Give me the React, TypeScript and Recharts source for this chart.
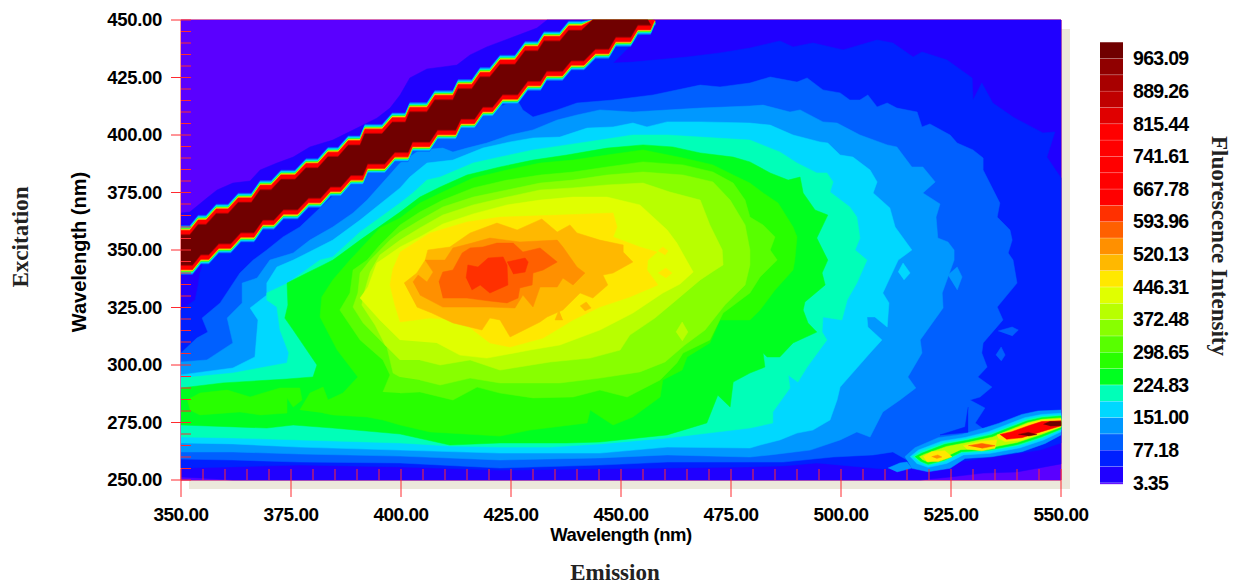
import { ScatterChart, Scatter, XAxis, YAxis, ReferenceLine, BarChart, Bar } from 'recharts';

type Pair = [number, number];

// Contours, [emission, excitation] in nm. Painted low to high.
const level1: Pair[] = [[350, 250], [550, 250], [550, 450], [350, 450]];
const level2: Pair[] = [[350, 366.1], [352, 366.5], [355.9, 372.6], [358.2, 376.1], [361.8, 379.1], [365.7, 380], [368, 384.8], [371.8, 387.8], [375.5, 390.4], [379.3, 394.8], [384.5, 397.8], [390, 403], [394.5, 407.3], [397.5, 411.7], [399.8, 417.4], [402, 424.8], [405.9, 428.7], [409.5, 429.6], [412.7, 430.4], [415.7, 434.8], [419.5, 438.3], [425.5, 442.6], [430.9, 446.5], [433.2, 450], [550, 450], [550, 257], [540, 253.5], [532.3, 253], [524.8, 251.3], [518, 250], [361.8, 250], [354.3, 250.9], [350, 251.3]];
const level3: Pair[] = [[355.5, 347.8], [377, 371.7], [399.8, 404.3], [443, 447.8], [457.7, 449.1], [452.7, 440], [448.2, 431.3], [452.7, 431.7], [465, 433.9], [472.5, 435.7], [479.3, 437.8], [486.1, 440.9], [489.1, 438.3], [493.6, 440], [500.5, 437], [508.2, 441.3], [511.8, 440], [516.4, 433.9], [518.4, 436.1], [524.1, 432.6], [529.8, 424.8], [530, 415.2], [532, 422.6], [534.5, 413.9], [539.1, 407.8], [545.9, 400.9], [548.6, 401.3], [546.8, 390.4], [550, 381.3], [550, 266.1], [545.2, 263], [524.8, 257.4], [509.5, 254.8], [494.5, 257.4], [486.8, 256.1], [479.3, 255.7], [422.5, 254.3], [399.8, 255.7], [377, 256.5], [361.8, 255.7], [350, 255.2], [350, 323.9], [353.2, 328.3], [353.9, 334.8], [354.3, 340]];
const level4: Pair[] = [[350, 305.2], [353.6, 311.7], [356.1, 314.3], [354.8, 320.4], [358.9, 327], [363.4, 340], [366.4, 345.6], [369.5, 350], [373.2, 355.7], [377, 360], [390.7, 384.8], [411.1, 404.3], [426.4, 415.2], [427.7, 410.9], [430, 407.8], [435.5, 410.9], [440, 413.9], [448.2, 415.2], [457.3, 417.4], [468, 421.7], [472.5, 420.9], [479.3, 422.6], [483.9, 425.2], [490, 423], [492.3, 424.8], [495.9, 419.6], [499.8, 418.3], [502, 415.2], [504.3, 415.2], [506.1, 417.4], [508.2, 412.2], [510.5, 413.9], [512.7, 411.7], [517.3, 410], [518.4, 403.5], [520.2, 404.8], [524.8, 400], [526.4, 396.5], [530, 393.5], [532.3, 390], [532.3, 384.8], [536.1, 370.4], [535.5, 364.3], [538.4, 358.7], [538.9, 354.3], [538, 348.7], [539.1, 345.6], [540, 335.6], [535.5, 325.2], [536.8, 319.6], [532.3, 309.6], [532, 305.2], [533.2, 299.1], [531.1, 294.8], [534.3, 290.4], [531.6, 286.1], [529.3, 284.8], [532.7, 281.3], [530.5, 274.8], [532.7, 271.7], [520.2, 263], [515, 258.7], [511.8, 262.2], [507.3, 260.9], [498.2, 260], [486.8, 257.8], [479.3, 257.8], [460.5, 257.8], [445.2, 256.5], [422.5, 255.2], [399.8, 257.4], [377, 257.8], [361.8, 258.7], [350, 259.1]];
const level5: Pair[] = [[350, 301.3], [355.9, 302.2], [361.8, 309.6], [360.5, 320.4], [363.9, 327], [363.9, 335.6], [367.3, 337.8], [370.2, 345.6], [375.5, 348.7], [379.3, 354.3], [384.5, 360], [389.1, 366.1], [392.3, 371.7], [399.8, 387.8], [404.3, 393.5], [409.5, 394.3], [411.8, 392.6], [415, 394.3], [419.5, 396.5], [424.8, 400], [430, 402.2], [435.5, 406.5], [440, 408.7], [445.2, 410.9], [452.7, 410], [468, 411.7], [479.3, 412.6], [482.3, 413], [488.4, 410], [490.7, 410.9], [495.9, 405.7], [499.1, 405.2], [504.3, 400], [510.5, 395.7], [512.7, 394.8], [516.1, 386.1], [518.6, 386.1], [521.4, 379.6], [518.6, 374.8], [522.5, 370], [521.6, 364.3], [522, 355.2], [524.3, 353.5], [525.7, 350], [525.7, 345.6], [523, 331.3], [523.2, 324.8], [518, 310.9], [518.4, 305.2], [515.2, 294.8], [517, 290], [513.4, 284.8], [509.5, 279.6], [506.6, 268.7], [503.6, 270.9], [499.8, 267.4], [493, 263], [483.9, 260.9], [479.3, 260], [460.5, 260.9], [445.2, 259.6], [422.5, 258.7], [399.8, 260.4], [377, 261.3], [361.8, 262.2], [350, 262.2]];
const level6: Pair[] = [[350, 295.7], [361.8, 298.7], [366.8, 303.5], [367.5, 319.6], [365.7, 324.8], [369.5, 330.4], [369.5, 335.6], [371.8, 342.6], [375.5, 345.6], [384.5, 354.3], [390.7, 363], [399.8, 377], [402, 381.7], [405.9, 387.8], [411.8, 389.1], [418.6, 394.3], [424.8, 397], [430, 398.7], [436.1, 399.1], [442.3, 403], [448.2, 403.5], [452.7, 405.2], [455.9, 403.5], [460.5, 405.7], [468, 405.7], [479.3, 405.2], [483.9, 404.3], [489.1, 400], [495.2, 397], [497, 396.5], [499.8, 391.3], [502.7, 390.4], [506.6, 384.8], [508.2, 379.6], [507.3, 374.8], [511.1, 368.3], [512.3, 360], [516.1, 350], [513, 345.6], [509.5, 331.3], [510.9, 327], [510.5, 316.5], [507.7, 320.9], [505.9, 320.9], [506.1, 316.5], [509.3, 310.9], [506.6, 305.2], [499.8, 290.4], [499.1, 284.8], [497.5, 276.1], [493.6, 271.7], [490, 270.4], [486.1, 267.4], [481.6, 265.2], [479.3, 263.9], [460.5, 264.3], [445.2, 261.7], [422.5, 261.7], [399.8, 263], [377, 264.3], [361.8, 265.7], [350, 266.1]];
const level7: Pair[] = [[350, 294.3], [361.8, 296.5], [374.1, 300.9], [374.5, 305.2], [372.5, 315.2], [371.8, 325.2], [369.5, 328.3], [369.5, 331.3], [374.3, 335.6], [381.6, 345.6], [384.5, 347], [390.7, 357.8], [399.8, 370.4], [402.7, 374.8], [405.9, 380.4], [408.9, 381.7], [416.4, 387.8], [422.5, 390.4], [430, 393.5], [437.7, 395.7], [445.2, 397.8], [452.7, 400], [460.5, 400], [468, 399.1], [479.3, 397.8], [486.1, 392.6], [490, 387.8], [494.5, 383.5], [496.8, 383.5], [498.2, 379.6], [497.5, 375.2], [502, 368.7], [503.6, 364.3], [504.3, 355.2], [503.2, 350], [505.9, 345.6], [503.6, 335.6], [501.4, 328.3], [500.2, 319.6], [495.9, 320.9], [495.7, 314.3], [496.8, 310.9], [492.3, 299.1], [490.2, 292.6], [488, 295.7], [488.4, 290], [484.5, 279.6], [484.5, 274.8], [479.3, 272.6], [468, 270], [460.5, 268.3], [445.2, 265.7], [433.9, 264.3], [422.5, 264.3], [411.1, 264.8], [399.8, 266.1], [377, 267.4], [361.8, 268.3], [350, 268.7]];
const level8: Pair[] = [[350, 290], [359.5, 292.2], [374.1, 293.9], [380, 294.8], [380.9, 300], [375.5, 315.2], [373.6, 320.4], [374.3, 326.1], [374.1, 335.6], [378.6, 340], [382.3, 343.5], [384.5, 345.6], [390.7, 354.3], [399.8, 366.5], [404.3, 373], [408.9, 377.4], [415, 382.6], [422.5, 386.1], [430, 389.1], [437.7, 391.3], [446.8, 394.3], [455, 395.7], [461.8, 394.8], [468, 392.2], [475.5, 390.4], [479.3, 388.3], [483.9, 383.5], [488, 380.4], [490.7, 381.7], [491.4, 374.8], [494.1, 367.4], [497, 365.2], [494.5, 355.2], [497, 345.6], [495.7, 340], [496.4, 334.8], [491.8, 327.4], [491.4, 323.9], [492.5, 318.3], [494.5, 314.3], [489.1, 309.6], [486.1, 303.5], [483.2, 303.5], [482.3, 305.2], [482.7, 299.1], [479.3, 296.5], [475.5, 292.6], [474.8, 281.7], [472, 286.9], [469.5, 274.8], [460.5, 269.6], [445.2, 266.5], [437.7, 266.1], [422.5, 266.1], [411.1, 265.2], [399.8, 270], [384.5, 272.6], [375.5, 273.9], [369.5, 272.6], [350, 273.9]];
const level9Left: Pair[] = [[351.4, 284.8], [354.3, 287.8], [360.5, 289.1], [365.7, 286.1], [372.5, 290], [377, 290], [377.5, 284.8], [375.5, 281.7], [374.1, 285.7], [374.1, 279.1], [368, 278.3], [363.4, 279.6], [354.3, 278.3], [352, 280.4]];
const level9: Pair[] = [[377, 280.4], [379.3, 287.8], [382.3, 290.4], [383.4, 284.8], [386.8, 287.8], [390.2, 294.8], [385.5, 306.5], [381.6, 320.9], [382, 329.6], [384.5, 337], [388.4, 345.6], [395.2, 359.6], [399.8, 363.9], [404.3, 370.4], [409.5, 375.2], [416.4, 381.3], [424.1, 384.8], [431.6, 387.8], [439.1, 389.1], [446.8, 391.3], [455, 393.5], [464.1, 390], [470.9, 387], [475.5, 382.6], [479.3, 379.1], [482.3, 374.8], [485.7, 370.4], [489.1, 360], [490, 355.7], [489.5, 345.6], [489.1, 341.3], [485, 332.6], [481.6, 323.9], [479.3, 319.6], [472.5, 319.6], [470.2, 309.6], [465, 303.5], [463.9, 297.8], [459.5, 293.5], [458.9, 286.1], [452.7, 277.4], [448.2, 273.9], [443, 280.4], [442.3, 274.8], [429.3, 271.7], [422.5, 269.1], [406.6, 270.9], [399.8, 273.9], [395.9, 276.1], [392.3, 277.4], [384.5, 278.3], [382.3, 279.1]];
const level10: Pair[] = [[395.9, 288.3], [397.5, 295.7], [395.9, 302.2], [390.7, 310.9], [386.1, 323.9], [388.4, 331.3], [389.1, 341.3], [392.3, 345.6], [395.2, 352.2], [399.8, 360.9], [404.3, 366.5], [409.5, 371.7], [416.4, 377], [424.1, 380.4], [431.6, 382.6], [439.1, 383.9], [446.8, 386.1], [455, 388.3], [464.1, 387], [470.9, 383.9], [475.5, 379.1], [478.2, 371.7], [479.3, 364.3], [482.3, 360.9], [485, 355.7], [483.9, 350], [485.5, 345.6], [481.6, 338.3], [479.3, 331.3], [473.2, 322.6], [470.2, 310.9], [464.1, 305.2], [462.7, 300.9], [458.9, 293.5], [451.4, 286.1], [445.2, 289.1], [439.1, 286.1], [430, 285.7], [422.5, 287.8], [417.3, 290.4], [411.8, 284.8], [404.3, 288.3], [399.8, 287.8]];
const level11: Pair[] = [[399.8, 294.8], [398.2, 296.5], [396.8, 307.8], [391.4, 318.3], [389.1, 325.2], [390.2, 331.3], [390.7, 340], [393, 345.6], [397.5, 354.3], [399.8, 357.8], [404.3, 363], [409.5, 368.7], [416.4, 373], [424.1, 376.1], [431.6, 379.1], [439.1, 380.4], [446.8, 382.6], [455, 383.9], [464.1, 382.6], [470.9, 379.6], [474.8, 371.7], [478.2, 360.9], [479.3, 350], [479.3, 343.5], [478.2, 334.8], [473.6, 326.1], [469.1, 315.2], [464.5, 308.7], [460, 301.3], [454.3, 297], [445.2, 294.3], [436.1, 292.2], [422.5, 292.2], [415.7, 294.3], [408.9, 291.3], [404.3, 293.5]];
const level12: Pair[] = [[399.8, 302.2], [396.4, 308.7], [394.1, 317.4], [391.1, 326.1], [391.8, 332.6], [393, 340.4], [395.2, 347.8], [399.8, 354.3], [404.3, 359.6], [409.5, 365.2], [416.4, 369.6], [424.1, 373], [431.6, 376.1], [439.1, 377], [446.8, 378.3], [455, 379.1], [461.1, 375.2], [468, 371.7], [470.2, 360.9], [473, 350], [473.2, 343.5], [471.4, 341.3], [468, 337], [461.8, 327], [457.7, 320.4], [452, 313], [449.8, 306.5], [443, 303], [433.9, 301.3], [422.5, 297.8], [415.7, 302.2], [408.9, 300], [404.3, 302.2]];
const level13: Pair[] = [[399.8, 310.9], [395.2, 319.6], [390.7, 329.1], [392.5, 333.9], [394.5, 344.3], [399.8, 351.3], [404.3, 355.7], [409.5, 361.3], [416.4, 365.7], [424.1, 369.6], [431.6, 371.7], [439.1, 373], [446.8, 373], [454.3, 369.6], [460.5, 358.7], [462.7, 353], [466.4, 340.4], [463.4, 335.2], [459.5, 331.3], [452.7, 322.6], [445.2, 315.2], [436.1, 308.7], [429.3, 306.5], [419.5, 303], [413.4, 304.3], [408.2, 309.6]];
const level14: Pair[] = [[399.8, 349.1], [406.6, 357.4], [415, 362.2], [422.5, 364.3], [436.1, 365.2], [448.2, 366.1], [449.1, 360], [448.2, 355.7], [454.3, 351.3], [458.2, 349.1], [456.1, 345.6], [455.9, 341.3], [458.4, 334.8], [452, 329.6], [445.2, 325.2], [439.1, 319.6], [432.3, 311.7], [424.8, 307.8], [420.2, 309.6], [413.4, 319.6], [406.6, 320.4], [399.8, 318.7], [398.6, 326.1], [397.5, 334.8], [398.2, 342.2]];
const level15: Pair[] = [[400.7, 335.6], [403.6, 340], [405.5, 345.6], [406.1, 350], [411.1, 351.3], [415.7, 357.4], [421.8, 361.7], [426.4, 358.7], [432, 363.5], [435.5, 357.8], [438.4, 360.9], [440, 357.4], [445.2, 354.3], [450.5, 352.2], [450.5, 349.1], [452.7, 344.8], [448.2, 340], [445.9, 339.1], [447, 334.8], [443.6, 329.1], [440.7, 331.3], [436.8, 323.9], [433.2, 320.9], [431.6, 318.7], [424.8, 312.2], [422.5, 319.6], [420.2, 320.4], [418.4, 315.2], [411.8, 318.3], [407, 322.6], [403.6, 325.2]];
const level16: Pair[] = [[402.7, 336.1], [403.9, 339.1], [405.9, 336.1], [407.3, 340.4], [405.5, 345.6], [410, 345.6], [411.8, 350.9], [416.1, 353], [420.2, 355.2], [427, 353.5], [435.5, 354.3], [436.8, 351.3], [440, 342.6], [441.8, 340], [439.1, 334.8], [436.8, 337.8], [435.5, 333.9], [431.6, 333.9], [430, 325.2], [427.7, 330.4], [425.9, 324.8], [420.2, 325.2], [409.5, 325.2], [404.3, 330.4]];
const level17: Pair[] = [[408.6, 336.1], [409.5, 340.4], [411.8, 341.3], [413.9, 348.7], [415.7, 350.9], [418.6, 351.3], [421.8, 353], [425.5, 353], [427.7, 349.1], [431.6, 350.9], [435.5, 344.8], [432.3, 341.3], [430, 340], [429.8, 334.8], [427, 333.5], [426.6, 329.1], [424.1, 327], [420.2, 327.8], [415, 329.1], [409.5, 329.1]];
const level18a: Pair[] = [[414.8, 337.8], [415.2, 343.5], [417.5, 342.6], [419.8, 346.5], [423.2, 347], [424.1, 343.5], [424.3, 334.8], [420.2, 331.3], [418, 334.8], [416.1, 332.6]];
const level18b: Pair[] = [[424.1, 344.8], [428.2, 346.5], [428.9, 344.8], [428.2, 340.4], [425.5, 339.6]];

// hot band in the lower right corner
const bandOuter: Pair[] = [[514.5, 260.1], [516.8, 264], [522.1, 268.4], [527.4, 269.8], [532.7, 272.7], [535.8, 274.6], [541.1, 278.5], [544.8, 280], [550, 280.4], [550, 269.6], [546.4, 265.9], [541.1, 262.3], [534.2, 260.1], [528.2, 259.4], [524.8, 255.1], [519.8, 253.6], [516.1, 255.1]];
const bandLobe: Pair[] = [[510.7, 255.2], [513.4, 257.4], [515, 257.8], [516.1, 255.2], [512.7, 253.5]];
const bandCyan: Pair[] = [[515.7, 260.1], [517.6, 263], [522.9, 266.9], [528.2, 268.5], [533.5, 271], [536.5, 273.2], [541.8, 277.1], [545.6, 278.5], [550, 279], [550, 271], [546, 267.4], [540.7, 264], [533.9, 261.6], [527.8, 260.9], [524, 257.2], [519.8, 255.5], [517.2, 257.2]];
const bandTeal: Pair[] = [[516.2, 260.1], [518, 262.4], [523.5, 266.2], [528.8, 267.9], [534, 270.3], [537, 272.4], [542.2, 276.4], [545.9, 277.8], [550, 278.2], [550, 271.9], [545.6, 268.2], [540.3, 264.9], [533.5, 262.5], [527.4, 261.8], [523.6, 258.2], [519.8, 256.4], [517.6, 258.2]];
const bandGreen: Pair[] = [[516.8, 260.1], [518.3, 261.6], [523.6, 265.5], [529, 267.4], [534.2, 269.6], [536.9, 271.7], [542.2, 275.6], [545.6, 277.1], [550, 277.8], [550, 272.2], [545.6, 268.8], [540.3, 265.5], [533.5, 263], [527.4, 262.3], [523.6, 258.7], [519.8, 256.8], [518, 258.3]];
const bandLime: Pair[] = [[517.8, 260.1], [519, 261.2], [524, 264.6], [529.3, 266.5], [534.5, 268.7], [537.2, 270.9], [542.4, 274.9], [545.7, 276.4], [550, 277], [550, 273], [545.4, 269.7], [540, 266.3], [533.2, 263.8], [527.2, 263.2], [523.2, 259.6], [519.8, 257.8], [518.4, 259]];
const blob1: Pair[] = [[518.7, 260.1], [520.6, 262.3], [523.6, 262.7], [525.2, 260.1], [522.1, 258], [519.5, 258]];
const blob1Core: Pair[] = [[520.6, 260.1], [522, 260.9], [522.9, 260], [521.7, 259.3]];
const blob2: Pair[] = [[527.8, 264.9], [532, 266.9], [535.4, 267.4], [535, 263.8], [532, 262.7], [528.6, 263.5]];
const blob2Core: Pair[] = [[528.9, 264.9], [532, 265.9], [535, 264.9], [532, 263.8]];
const blob3: Pair[] = [[535.4, 269.6], [538.4, 271.3], [542.6, 274.6], [545.6, 276.1], [550, 276.5], [550, 273.2], [545.6, 270.3], [541.1, 267.4], [537.3, 266.7], [535.8, 268.1]];
const blob3Red: Pair[] = [[536.1, 269.8], [538.8, 271], [542.6, 273.6], [545.6, 275.4], [550, 275.8], [550, 273.6], [545.6, 271], [541.1, 268.4], [537.6, 267.7]];
const blob3DarkA: Pair[] = [[540.3, 269.8], [542.6, 270.7], [544.5, 269.8], [542.6, 269.1]];
const blob3DarkB: Pair[] = [[546, 274.2], [547.5, 275.4], [550, 275.4], [550, 273.6], [547.5, 273.5]];

// small isolated islands
const speckA: Pair[] = [[513, 340.4], [514.1, 344.3], [515.7, 340], [514.3, 337]];
const speckB: Pair[] = [[524.3, 339.1], [526.4, 342.6], [527.5, 338.3], [526.4, 332.6]];
const speckC: Pair[] = [[535.2, 304.3], [536.4, 307.8], [537.3, 304.3], [536.4, 301.7]];
const speckD: Pair[] = [[535.7, 314.8], [538.9, 316.5], [540.3, 315.2], [538.9, 312.6]];
const speckE: Pair[] = [[462.5, 314.3], [463.9, 318.7], [465.2, 314.3], [463.9, 310.4]];
const speckF: Pair[] = [[440.7, 325.7], [442.1, 327.4], [443.2, 324.8], [441.8, 323.5]];
const speckG: Pair[] = [[435.9, 323.9], [435, 319.6], [436.8, 319.6]];
const speckH: Pair[] = [[458.4, 349.6], [459.5, 351.3], [460.7, 349.6], [460, 347.8]];
const speckI: Pair[] = [[458.4, 340], [460.2, 342.2], [461.6, 340], [460.2, 337.8]];
const seam: Pair[] = [[528.9, 281.7], [528.2, 273], [522.5, 269.6], [528.9, 270.8]];

// scatter ridge (em = ex): each step of the staircase
const ridgeEmStart = [350, 353.9, 358, 363, 368, 372.7, 378.4, 383.4, 388, 391.8, 398, 402, 407.7, 413, 418, 422.5, 428.2, 432.5, 438.1, 443.6, 448.2, 453.2, 457];
const ridgeEmEnd = [352, 355.7, 360.7, 366, 370.5, 375.9, 381.1, 385.7, 390.7, 395.7, 401, 405.9, 411.8, 416.1, 420.2, 425.9, 431.1, 436.1, 441, 446.6, 451.6, 456.1, 457.2];
const ridgeEx = [350, 354.5, 359.3, 364.1, 369.6, 374.1, 379.1, 384, 389, 394, 399, 403.5, 408.7, 413.5, 418.7, 424.1, 430, 434.3, 438.9, 443.9, 449.1, 454.3, 458.3];
const ridgeHalfWidths = [10.6, 10.3, 10, 9.7, 9.4, 9.1, 8.8, 8.5, 6.8, 6.4];
const ridgeColors = ['#0060ff', '#0098ff', '#00d8ff', '#00ffb8', '#28ff00', '#e0ff00', '#ff9000', '#ff0000', '#c00000', '#700000'];
const ridgeLowerShift = 0.6; // the lower staircase sits a little to the right of the upper one

const xTicks = [350, 355, 360, 365, 370, 375, 380, 385, 390, 395, 400, 405, 410, 415, 420, 425, 430, 435, 440, 445, 450, 455, 460, 465, 470, 475, 480, 485, 490, 495, 500, 505, 510, 515, 520, 525, 530, 535, 540, 545, 550];
const yTicks = [250, 255, 260, 265, 270, 275, 280, 285, 290, 295, 300, 305, 310, 315, 320, 325, 330, 335, 340, 345, 350, 355, 360, 365, 370, 375, 380, 385, 390, 395, 400, 405, 410, 415, 420, 425, 430, 435, 440, 445, 450];

// colour scale, bottom to top
const scaleEdges = [-33.56, 3.35, 40.26, 77.18, 114.09, 151.0, 187.91, 224.83, 261.74, 298.65, 335.56, 372.48, 409.39, 446.31, 483.22, 520.13, 557.04, 593.96, 630.87, 667.78, 704.7, 741.61, 778.52, 815.44, 852.35, 889.26, 926.18, 963.09, 1000];
const scaleColors = ['#5a00ff', '#2000ff', '#0020ff', '#0060ff', '#0098ff', '#00d8ff', '#00ffb8', '#00ff20', '#28ff00', '#58ff00', '#88ff00', '#b8ff00', '#e0ff00', '#ffe800', '#ffb800', '#ff9000', '#ff6000', '#ff3000', '#ff0000', '#ff0000', '#ff0000', '#ff0000', '#ff0000', '#e00000', '#c00000', '#a80000', '#900000', '#700000'];
const scaleLabels = [3.35, 77.18, 151.0, 224.83, 298.65, 372.48, 446.31, 520.13, 593.96, 667.78, 741.61, 815.44, 889.26, 963.09];

const C = scaleColors;
const fieldLayers: [string, Pair[]][] = [
    [C[0], level1], [C[1], level2], [C[2], level3], [C[3], level4], [C[4], level5], [C[5], level6], [C[6], level7],
    [C[7], level8], [C[8], level9Left], [C[8], level9], [C[9], level10], [C[10], level11], [C[11], level12],
    [C[12], level13], [C[13], level14], [C[14], level15], [C[15], level16], [C[16], level17], [C[17], level18a], [C[17], level18b],
    [C[4], bandOuter], [C[4], bandLobe], [C[5], bandCyan], [C[6], bandTeal], [C[7], bandGreen], [C[11], bandLime],
    [C[13], blob1], [C[15], blob1Core], [C[13], blob2], [C[16], blob2Core], [C[13], blob3], ['#ff0000', blob3Red], [C[27], blob3DarkA], [C[27], blob3DarkB],
];
const speckLayers: [string, Pair[]][] = [
    [C[5], speckA], [C[4], speckB], [C[3], speckC], [C[3], speckD], [C[11], speckE],
    [C[14], speckF], [C[14], speckG], [C[13], speckH], [C[13], speckI], [C[2], seam],
];

// the ridge is one closed outline per colour, upper edge out and lower edge back
const ridgeOutline = (halfWidth: number): Pair[] => {
    const upper: Pair[] = [];
    const lower: Pair[] = [];
    ridgeEx.forEach((ex, i) => {
        if (ex - halfWidth >= 450) return;
        const top = Math.min(450, ex + halfWidth);
        const bottom = ex - halfWidth;
        upper.push([ridgeEmStart[i], top], [ridgeEmEnd[i], top]);
        lower.push([i === 0 ? 350 : ridgeEmStart[i] + ridgeLowerShift, bottom], [ridgeEmEnd[i] + ridgeLowerShift, bottom]);
    });
    return [...upper, ...lower.reverse()];
};
const ridgeLayers: [string, Pair[]][] = ridgeHalfWidths.map((w, i) => [ridgeColors[i], ridgeOutline(w)]);

const layers = [...fieldLayers, ...speckLayers, ...ridgeLayers].map(([color, pts]) => ({
    color,
    rows: pts.map(([em, ex]) => ({ em, ex })),
}));

// stacked colour bar; the lowest band straddles zero so it is two pieces
const scaleRow: Record<string, number | string> = { name: 'scale', b0: scaleEdges[0], b1: scaleEdges[1] };
const scaleBars = [{ key: 'b0', color: scaleColors[0] }, { key: 'b1', color: scaleColors[0] }];
for (let i = 2; i <= scaleColors.length; i++) {
    scaleRow[`b${i}`] = scaleEdges[i] - scaleEdges[i - 1];
    scaleBars.push({ key: `b${i}`, color: scaleColors[i - 1] });
}

const RED = '#ff2a30';
const TICK_FONT = '"Liberation Sans", Arial, sans-serif';
const SERIF = '"Liberation Serif", "Times New Roman", serif';

const XTick = ({ x, y, payload }: any) => {
    const major = payload.value % 25 === 0;
    return (
        <g>
            <line x1={x} x2={x} y1={y - 11} y2={major ? y + 17 : y} stroke={RED} strokeWidth={1} />
            {major && (
                <text x={x} y={y + 41} textAnchor="middle" fontFamily={TICK_FONT} fontWeight={700} fontSize={19} letterSpacing={-0.5} fill="#000">
                    {payload.value.toFixed(2)}
                </text>
            )}
        </g>
    );
};

const YTick = ({ x, y, payload }: any) => {
    const major = payload.value % 25 === 0;
    return (
        <g>
            <line x1={major ? x - 10 : x} x2={x + 10} y1={y} y2={y} stroke={RED} strokeWidth={1} />
            {major && (
                <text x={x - 19} y={y + 6} textAnchor="end" fontFamily={TICK_FONT} fontWeight={700} fontSize={18.5} letterSpacing={-0.3} fill="#000">
                    {payload.value.toFixed(2)}
                </text>
            )}
        </g>
    );
};

const ScaleBand = ({ x, y, width, height, fill }: any) => (
    <g>
        <rect x={x} y={y} width={width} height={height} fill={fill} />
        <line x1={x} x2={x + width} y1={y} y2={y} stroke="#fff" strokeOpacity={0.5} />
    </g>
);

const App = () => {
    return (
        <div style={{ position: 'absolute', left: 0, top: 0, width: 1233, height: 584, background: '#fff', overflow: 'hidden' }}>
            {/* drop shadow behind the plot */}
            <div style={{ position: 'absolute', left: 189, top: 29, width: 881, height: 460, background: '#ece8db' }} />

            <div style={{ position: 'absolute', left: 0, top: 0 }}>
                <ScatterChart width={1233} height={584} margin={{ top: 20, right: 172, bottom: 64, left: 121 }}>
                    {layers.map((layer, i) => (
                        <Scatter
                            key={i}
                            data={layer.rows}
                            fill={layer.color}
                            line={{ stroke: layer.color, strokeWidth: 0.5, fill: layer.color }}
                            shape={() => <g />}
                            isAnimationActive={false}
                        />
                    ))}
                    <XAxis type="number" dataKey="em" domain={[350, 550]} ticks={xTicks} interval={0} height={40} tickSize={0} tickMargin={0} tickLine={false} axisLine={{ stroke: RED }} tick={<XTick />} />
                    <YAxis type="number" dataKey="ex" domain={[250, 450]} ticks={yTicks} interval={0} width={60} tickSize={0} tickMargin={0} tickLine={false} axisLine={{ stroke: RED }} tick={<YTick />} />
                    <ReferenceLine y={450} stroke={RED} />
                    <ReferenceLine x={550} stroke={RED} />
                </ScatterChart>
            </div>

            <div style={{ position: 'absolute', left: 1090, top: 0 }}>
                <BarChart width={120} height={584} data={[scaleRow]} stackOffset="sign" barCategoryGap={0} margin={{ top: 42, right: 0, bottom: 85, left: 10 }}>
                    <XAxis dataKey="name" hide />
                    <YAxis
                        orientation="right"
                        type="number"
                        domain={[-33.56, 1000]}
                        ticks={scaleLabels}
                        interval={0}
                        width={87}
                        axisLine={false}
                        tickLine={false}
                        tickSize={0}
                        tickMargin={10}
                        tickFormatter={(v: number) => v.toFixed(2)}
                        tick={{ fontFamily: TICK_FONT, fontWeight: 700, fontSize: 19.5, letterSpacing: -0.7, fill: '#000' }}
                    />
                    {scaleBars.map((b) => (
                        <Bar key={b.key} dataKey={b.key} stackId="scale" fill={b.color} shape={<ScaleBand />} isAnimationActive={false} />
                    ))}
                </BarChart>
            </div>

            <svg width={1233} height={584} style={{ position: 'absolute', left: 0, top: 0, pointerEvents: 'none' }}>
                <text x={621} y={541} textAnchor="middle" fontFamily={TICK_FONT} fontWeight={700} fontSize={18.5} letterSpacing={-0.45} fill="#000">Wavelength (nm)</text>
                <text transform="translate(86,252) rotate(-90)" textAnchor="middle" fontFamily={TICK_FONT} fontWeight={700} fontSize={20} fill="#000">Wavelength (nm)</text>
                <text x={615} y={580} textAnchor="middle" fontFamily={SERIF} fontWeight={700} fontSize={23} fill="#222">Emission</text>
                <text transform="translate(28,237) rotate(-90)" textAnchor="middle" fontFamily={SERIF} fontWeight={700} fontSize={23} fill="#222">Excitation</text>
                <text transform="translate(1212,246) rotate(90)" textAnchor="middle" fontFamily={SERIF} fontWeight={700} fontSize={23} fill="#222">Fluorescence Intensity</text>
            </svg>
        </div>
    );
};

export default App;
